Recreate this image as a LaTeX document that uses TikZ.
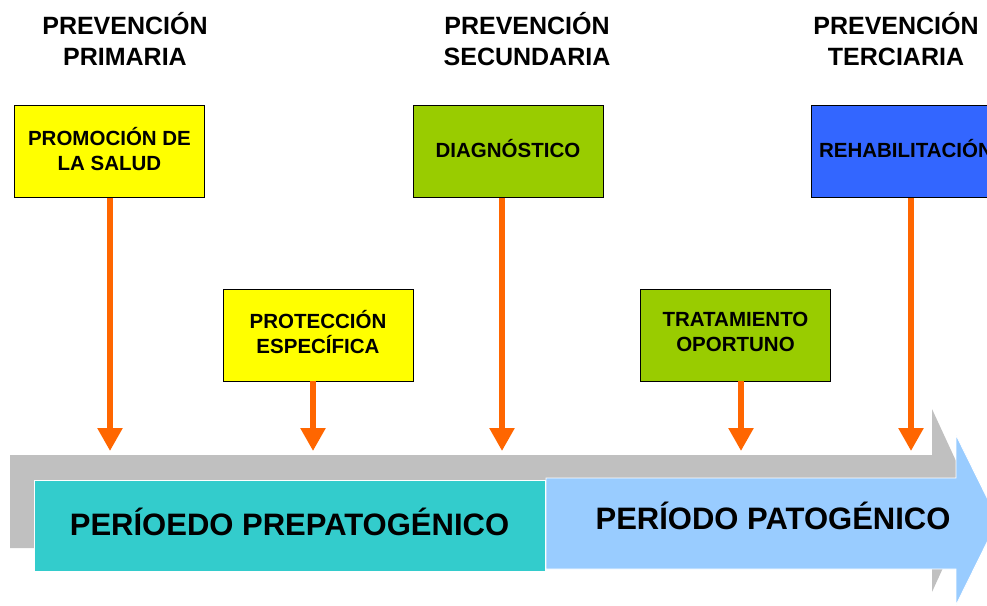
\documentclass[tikz,border=0pt]{standalone}
\usepackage{fontspec}
\setmainfont{Liberation Sans}
\usepackage{xcolor}
\usepackage{tikz}
\usetikzlibrary{shapes,arrows.meta,positioning}

\definecolor{promoyellow}{HTML}{FFFF00}
\definecolor{diaggreen}{HTML}{99CC00}
\definecolor{rehabblue}{HTML}{3366FF}
\definecolor{prepatteal}{HTML}{33CCCC}
\definecolor{patblue}{HTML}{99CCFF}
\definecolor{shadowgray}{HTML}{C0C0C0}
\definecolor{arroworange}{HTML}{FF6600}

\begin{document}
\begin{tikzpicture}[x=1pt, y=-1pt, >={Triangle[width=24pt,length=23pt]}]
                    % Define styles
                    \tikzstyle{level} = [align=center, text depth=6pt, font=\bfseries\fontsize{25}{31}\selectfont]
                    \tikzstyle{measure} = [rectangle, draw, line width=0.8pt, minimum width=190pt, minimum height=92pt, text depth=6pt, align=center, font=\bfseries\fontsize{20.5}{25}\selectfont]
                    \tikzstyle{period} = [text depth=8pt, font=\bfseries\fontsize{31}{36}\selectfont]
                    \tikzstyle{line} = [draw, ->, line width=5.5pt, arroworange]

                    \useasboundingbox (0,0) rectangle (987,605);
                    \clip (0,0) rectangle (987,605);

                    % Time line
                    \fill [shadowgray] (10,455) -- (932,455) -- (932,409) -- (974,500) -- (932,592) -- (932,548) -- (10,548) -- cycle;
                    \filldraw [fill=patblue, draw=white, line width=0.8pt] (546,478) -- (956,478) -- (956,435) -- (998,520) -- (956,605) -- (956,569) -- (546,569) -- cycle;
                    \node [period, fill=prepatteal, draw=white, line width=0.8pt, minimum width=511pt, minimum height=91pt] (prepat) at (289.5,525.5) {PERÍOEDO PREPATOGÉNICO};
                    \node [period] (pat) at (773,520) {PERÍODO PATOGÉNICO};

                    % Nodes
                    \node [level] (primaria) at (125,42) {PREVENCIÓN\\PRIMARIA};
                    \node [level] (secundaria) at (527,42) {PREVENCIÓN\\SECUNDARIA};
                    \node [level] (terciaria) at (896,42) {PREVENCIÓN\\TERCIARIA};

                    \node [measure, fill=promoyellow] (promocion) at (109.5,151.5) {PROMOCIÓN DE\\LA SALUD};
                    \node [measure, fill=diaggreen] (diagnostico) at (508,151.5) {DIAGNÓSTICO};
                    \node [measure, fill=rehabblue] (rehabilitacion) at (906,151.5) {REHABILITACIÓN};
                    \node [measure, fill=promoyellow] (proteccion) at (318,335) {PROTECCIÓN\\ESPECÍFICA};
                    \node [measure, fill=diaggreen] (tratamiento) at (735.5,335) {TRATAMIENTO\\OPORTUNO};

                    \coordinate (t1) at (110,451);
                    \coordinate (t2) at (313,451);
                    \coordinate (t3) at (502,451);
                    \coordinate (t4) at (741,451);
                    \coordinate (t5) at (911,451);

                    % Arrows
                    \draw [line] (promocion.south -| t1) -- (t1);
                    \draw [line] (proteccion.south -| t2) -- (t2);
                    \draw [line] (diagnostico.south -| t3) -- (t3);
                    \draw [line] (tratamiento.south -| t4) -- (t4);
                    \draw [line] (rehabilitacion.south -| t5) -- (t5);
                \end{tikzpicture}
\end{document}
